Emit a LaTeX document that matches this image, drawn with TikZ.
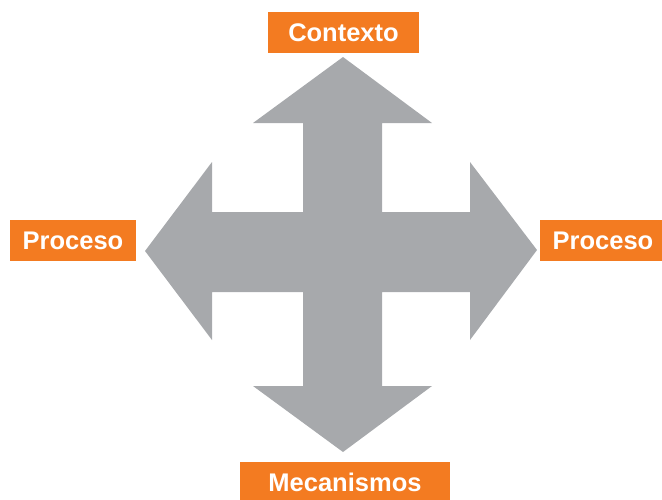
\documentclass[tikz,border=0pt]{standalone}
\usepackage{fontspec}
\setmainfont{Liberation Sans}
\definecolor{arrowgray}{HTML}{A7A9AC}
\definecolor{boxorange}{HTML}{F37B21}
\begin{document}
\begin{tikzpicture}[x=1pt,y=-1pt,
  labelbox/.style={fill=boxorange, text=white, font=\bfseries\fontsize{25.5}{27}\selectfont,
    inner sep=0pt, text height=18pt, text depth=0pt, minimum height=41pt}]
\useasboundingbox (0,0) rectangle (662,499);
\fill[arrowgray] (343,57) -- (432,123) -- (382,123) -- (382,212) -- (470,212) -- (470,162)
  -- (537,250) -- (470,340) -- (470,292) -- (382,292) -- (382,386) -- (432,386)
  -- (343,452) -- (253,386) -- (303,386) -- (303,292) -- (212,292) -- (212,340)
  -- (145,251) -- (212,162) -- (212,212) -- (303,212) -- (303,123) -- (253,123) -- cycle;
\node[labelbox, minimum width=151pt] (ctx) at (343.5,32.5) {Contexto};
\node[labelbox, minimum width=126pt] (pl) at (73,240.5) {Proceso};
\node[labelbox, minimum width=126pt] (pr) at (603,240.5) {Proceso};
\node[labelbox, minimum width=210pt] (mec) at (345,482) {Mecanismos};
\end{tikzpicture}
\end{document}
